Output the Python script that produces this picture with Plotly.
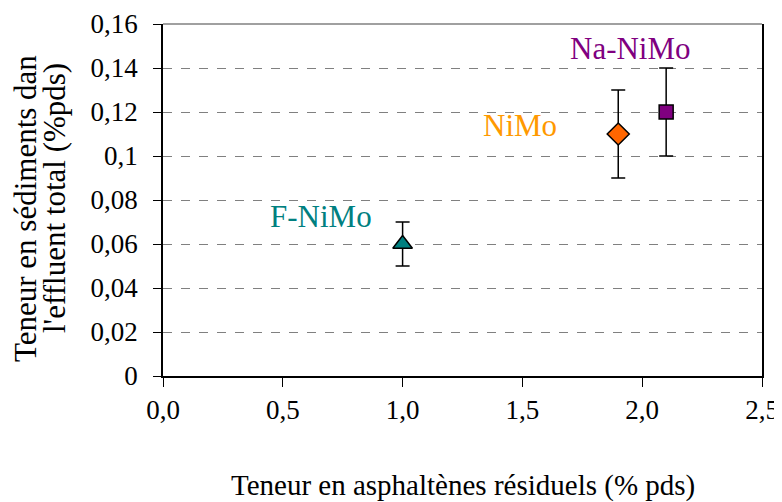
import plotly.graph_objects as go

# catalyst points: residual asphaltenes vs sediment content
catalysts = ["F-NiMo", "NiMo", "Na-NiMo"]
asphaltenes = [1.0, 1.9, 2.1]
sediments = [0.06, 0.11, 0.12]
sediment_err = [0.01, 0.02, 0.02]

label_x = [0.66, 1.49, 1.95]
label_y = [0.0727, 0.114, 0.149]

y_ticks = [0, 0.02, 0.04, 0.06, 0.08, 0.1, 0.12, 0.14, 0.16]
y_tick_text = ["0", "0,02", "0,04", "0,06", "0,08", "0,1", "0,12", "0,14", "0,16"]
x_ticks = [0.0, 0.5, 1.0, 1.5, 2.0, 2.5]
x_tick_text = ["0,0", "0,5", "1,0", "1,5", "2,0", "2,5"]

_SYMBOLS = {"F-NiMo": "triangle-up", "NiMo": "diamond", "Na-NiMo": "square"}
_FILL = {"F-NiMo": "#008080", "NiMo": "#FF6600", "Na-NiMo": "#800080"}
_TEXT = {"F-NiMo": "#008080", "NiMo": "#FF9900", "Na-NiMo": "#800080"}
_SIZE = {"F-NiMo": 17, "NiMo": 17, "Na-NiMo": 14}

FONT = "Liberation Serif, Times New Roman, serif"
TICK_SIZE = 27

# the page body has an 8px margin; margins below compensate for it
fig = go.Figure()
for i, name in enumerate(catalysts):
    fig.add_trace(go.Scatter(
        x=[asphaltenes[i]],
        y=[sediments[i]],
        mode="markers",
        name=name,
        marker=dict(symbol=_SYMBOLS[name], color=_FILL[name], size=_SIZE[name],
                    line=dict(color="black", width=1.5)),
        error_y=dict(type="data", array=[sediment_err[i]], color="black",
                     thickness=1.5, width=7),
        showlegend=False,
    ))
    fig.add_annotation(x=label_x[i], y=label_y[i], text=name, showarrow=False,
                       font=dict(family=FONT, size=31, color=_TEXT[name]))

# light top frame line
fig.add_shape(type="line", xref="paper", yref="paper", x0=0, x1=1, y0=1, y1=1,
              line=dict(color="#808080", width=1.5))

# axis titles as annotations (tighter line spacing than plotly titles)
fig.add_annotation(xref="paper", yref="paper", x=0.5, y=0, yanchor="middle",
                   yshift=-109, text="Teneur en asphaltènes résiduels (% pds)",
                   showarrow=False, font=dict(family=FONT, size=29))
fig.add_annotation(xref="paper", yref="paper", x=0, y=0.5, xanchor="center",
                   yanchor="middle", xshift=-138, yshift=-9, textangle=-90,
                   text="Teneur en sédiments dan",
                   showarrow=False, font=dict(family=FONT, size=31))
fig.add_annotation(xref="paper", yref="paper", x=0, y=0.5, xanchor="center",
                   yanchor="middle", xshift=-109, yshift=2, textangle=-90,
                   text="l'effluent total (%pds)",
                   showarrow=False, font=dict(family=FONT, size=31))

fig.update_layout(
    width=782, height=502,
    margin=dict(l=155, r=28, t=16, b=134),
    paper_bgcolor="white",
    plot_bgcolor="white",
    font=dict(family=FONT, size=TICK_SIZE, color="black"),
    xaxis=dict(
        range=[0, 2.5],
        tickvals=x_ticks, ticktext=x_tick_text,
        ticks="outside", ticklen=9, tickcolor="black",
        showline=True, linecolor="black", linewidth=1.5,
        showgrid=False, zeroline=False, automargin=False,
        tickfont=dict(size=TICK_SIZE),
    ),
    yaxis=dict(
        range=[0, 0.16],
        tickvals=y_ticks, ticktext=y_tick_text,
        ticks="outside", ticklen=8, tickcolor="black",
        ticklabelstandoff=10,
        showline=True, linecolor="black", linewidth=1.5, mirror=True,
        showgrid=True, gridcolor="#808080", griddash="dash", gridwidth=1.2,
        zeroline=False, automargin=False,
        tickfont=dict(size=TICK_SIZE),
    ),
)

fig.write_html("out.html")
